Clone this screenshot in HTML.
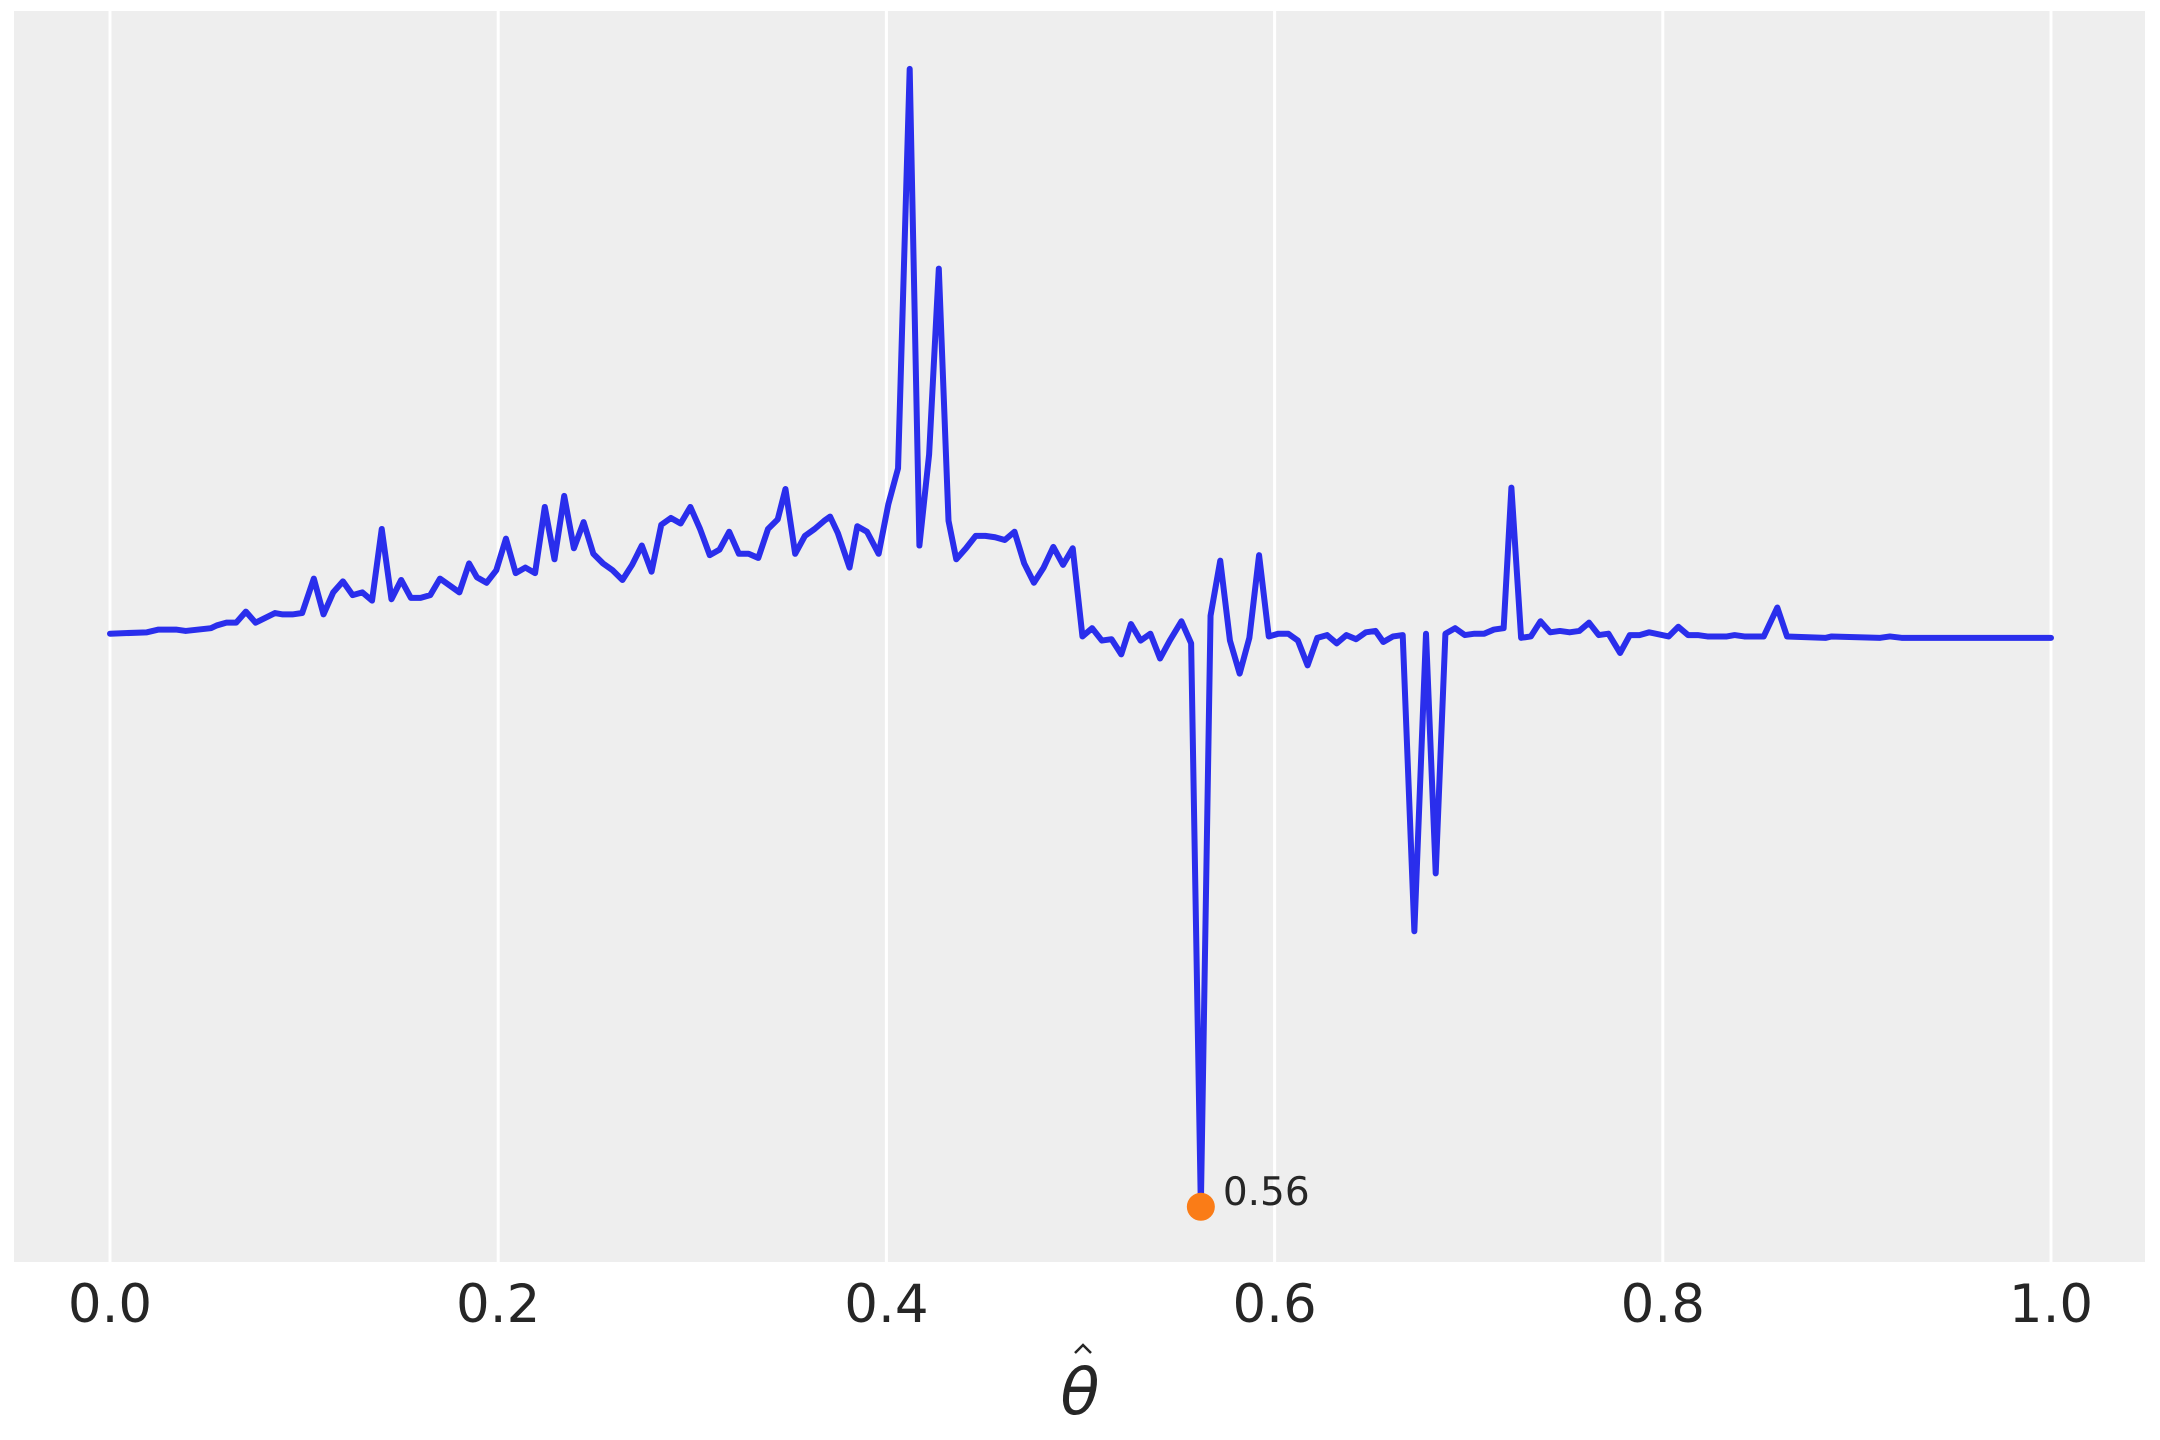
<!DOCTYPE html>
<html><head><meta charset="utf-8"><style>
html,body{margin:0;padding:0;background:#fff;}
svg{display:block;font-family:"DejaVu Sans","Liberation Sans",sans-serif;}
</style></head><body>
<svg id="chart" width="2160" height="1440" viewBox="0 0 2160 1440" xmlns="http://www.w3.org/2000/svg">
<rect x="14" y="11" width="2131" height="1251" fill="#eeeeee"/>
<g id="grid"></g><g id="ticks"></g><g id="series"></g>
<text x="1080" y="1414" font-size="64" font-style="italic" text-anchor="middle" fill="#262626" font-family="DejaVu Sans, sans-serif">θ</text>
<polyline points="1075,1353 1083,1345 1091,1353" fill="none" stroke="#262626" stroke-width="2.5"/>
</svg>
<script>
const thetas=[0,.019,.025,.034,.039,.052,.055,.060,.065,.070,.075,.085,.089,.094,.099,.105,.110,.115,.120,.125,.130,.135,.140,.145,.150,.155,.160,.165,.170,.180,.185,.189,.194,.199,.204,.209,.214,.219,.224,.229,.234,.239,.244,.249,.254,.259,.264,.269,.274,.279,.284,.289,.294,.299,.304,.309,.314,.319,.324,.329,.334,.339,.344,.348,.353,.358,.363,.368,.371,.375,.381,.385,.390,.396,.401,.406,.412,.417,.422,.427,.432,.436,.441,.446,.451,.456,.461,.466,.471,.476,.481,.486,.491,.496,.501,.506,.511,.516,.521,.526,.531,.536,.541,.546,.552,.557,.562,.567,.572,.577,.582,.587,.592,.597,.602,.607,.612,.617,.622,.627,.632,.637,.642,.647,.652,.656,.661,.666,.672,.678,.683,.688,.693,.698,.703,.708,.713,.718,.722,.727,.732,.737,.742,.747,.752,.757,.762,.767,.772,.778,.783,.788,.793,.803,.808,.813,.818,.823,.828,.833,.837,.842,.852,.859,.864,.884,.887,.912,.917,.923,.937,1.0];
const values=[.01,.02,.04,.04,.03,.05,.07,.09,.09,.17,.09,.16,.15,.15,.16,.41,.15,.31,.39,.29,.31,.25,.77,.26,.40,.27,.27,.29,.41,.31,.52,.42,.38,.47,.70,.45,.49,.45,.93,.55,1.01,.63,.82,.59,.52,.47,.40,.51,.65,.46,.80,.85,.81,.93,.77,.58,.62,.75,.59,.59,.56,.77,.84,1.06,.59,.72,.77,.83,.86,.74,.49,.79,.75,.59,.95,1.21,4.11,.65,1.31,2.66,.83,.55,.63,.72,.72,.71,.69,.75,.52,.38,.49,.64,.51,.63,-.01,.05,-.04,-.03,-.14,.08,-.04,.01,-.17,-.04,.10,-.06,-4.15,.14,.54,-.04,-.28,-.02,.58,-.01,.01,.01,-.04,-.22,-.02,0,-.06,0,-.03,.02,.03,-.05,-.01,0,-2.15,.01,-1.73,.01,.05,0,.01,.01,.04,.05,1.07,-.02,-.01,.10,.02,.03,.02,.03,.09,0,.01,-.13,0,0,.02,-.01,.06,0,0,-.01,-.01,-.01,0,-.01,-.01,.20,-.01,-.02,-.01,-.02,-.01,-.02,-.02,-.02];
const tickVals=[0,0.2,0.4,0.6,0.8,1.0];
const tickLabels=["0.0","0.2","0.4","0.6","0.8","1.0"];
const markTheta=0.562, markValue=-4.15, markLabel="0.56";
const NS="http://www.w3.org/2000/svg";
const xs=t=>110+t*1941;
const ys=v=>(461-100*v)*1.3776;
function mk(tag,attrs,parent){const e=document.createElementNS(NS,tag);for(const k in attrs)e.setAttribute(k,attrs[k]);parent.appendChild(e);return e;}
const grid=document.getElementById('grid'),ticks=document.getElementById('ticks'),series=document.getElementById('series');
tickVals.forEach((t,i)=>{
  const l=mk('line',{x1:xs(t),x2:xs(t),y1:11,y2:1262,stroke:'#fff','stroke-width':3},grid);
  
  
  const tx=mk('text',{x:xs(t),y:1322,'font-size':53,'text-anchor':'middle',fill:'#262626'},ticks);
  tx.textContent=tickLabels[i];
  
  
});
const pl=mk('polyline',{points:thetas.map((t,i)=>xs(t)+','+ys(values[i])).join(' '),fill:'none',stroke:'#2a2eec','stroke-width':6,'stroke-linejoin':'round','stroke-linecap':'round'},series);


const c=mk('circle',{cx:xs(markTheta),cy:ys(markValue),r:14,fill:'#fa7c17'},series);


const lt=mk('text',{x:xs(markTheta)+22,y:ys(markValue)-2,'font-size':39,fill:'#262626'},series);
lt.textContent=markLabel;


</script>
</body></html>
